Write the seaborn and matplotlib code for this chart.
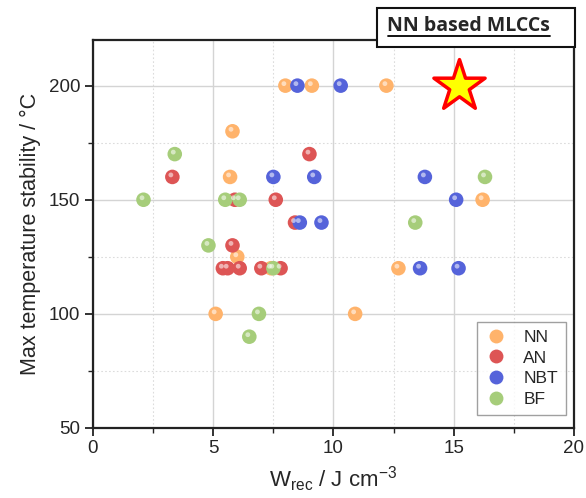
import pandas as pd
import matplotlib.pyplot as plt
import matplotlib.transforms as mtransforms
from matplotlib.patches import Rectangle
from matplotlib.ticker import MultipleLocator
import seaborn as sns

# data
nn_x = [8.0, 9.1, 12.2, 5.8, 5.7, 6.0, 7.4, 5.1, 10.9, 12.7, 16.2]
nn_y = [200, 200, 200, 180, 160, 125, 120, 100, 100, 120, 150]
an_x = [3.3, 9.0, 7.6, 5.9, 8.4, 5.8, 5.4, 5.6, 6.1, 7.0, 7.8]
an_y = [160, 170, 150, 150, 140, 130, 120, 120, 120, 120, 120]
nbt_x = [8.5, 10.3, 7.5, 9.2, 8.6, 9.5, 13.8, 15.1, 13.6, 15.2]
nbt_y = [200, 200, 160, 160, 140, 140, 160, 150, 120, 120]
bf_x = [3.4, 2.1, 5.5, 6.1, 16.3, 13.4, 4.8, 7.5, 6.9, 6.5]
bf_y = [170, 150, 150, 150, 160, 140, 130, 120, 100, 90]
star_x = [15.2]
star_y = [200]

groups = ['NN', 'AN', 'NBT', 'BF']
colors = ['#FFB36B', '#DD5555', '#5563DA', '#A6CD7A']

df = pd.concat([
    pd.DataFrame({'x': nn_x, 'y': nn_y, 'g': 'NN'}),
    pd.DataFrame({'x': an_x, 'y': an_y, 'g': 'AN'}),
    pd.DataFrame({'x': nbt_x, 'y': nbt_y, 'g': 'NBT'}),
    pd.DataFrame({'x': bf_x, 'y': bf_y, 'g': 'BF'}),
], ignore_index=True)

sns.set_style('white')
plt.rcParams['font.family'] = ['Liberation Sans', 'DejaVu Sans']
plt.rcParams['mathtext.fontset'] = 'custom'
plt.rcParams['mathtext.rm'] = 'Liberation Sans'
plt.rcParams['mathtext.it'] = 'Liberation Sans'

fig = plt.figure(figsize=(5.86, 4.98), dpi=100)
ax = fig.add_axes([0.1587, 0.1406, 0.8208, 0.7791])

ax.set_xlim(0, 20)
ax.set_ylim(50, 220)
ax.xaxis.set_major_locator(MultipleLocator(5))
ax.xaxis.set_minor_locator(MultipleLocator(2.5))
ax.yaxis.set_major_locator(MultipleLocator(50))
ax.yaxis.set_minor_locator(MultipleLocator(25))
ax.grid(True, which='major', color='#d4d4d4', lw=1.0, ls='-')
ax.grid(True, which='minor', color='#dcdcdc', lw=0.8, ls=(0, (1.5, 2)))
ax.set_axisbelow(True)

# draw points group by group in order
pal = dict(zip(groups, colors))
sns.scatterplot(data=df, x='x', y='y', hue='g', hue_order=groups, palette=pal,
                s=110, edgecolor='none', linewidth=0, legend=False, ax=ax, zorder=3)
# small highlight to give a glossy sphere look
hl = mtransforms.offset_copy(ax.transData, fig=fig, x=-1.5, y=2.0, units='dots')
ax.scatter(df['x'], df['y'], s=12, color='white', alpha=0.55, edgecolor='none',
           transform=hl, zorder=4)

ax.scatter(star_x, star_y, marker='*', s=1500, color='#FFFF00', edgecolor='red',
           linewidth=2.5, zorder=5)

for side in ['left', 'bottom', 'right', 'top']:
    ax.spines[side].set_color('#222222')
    ax.spines[side].set_linewidth(1.6)
ax.tick_params(which='major', direction='out', length=6, width=1.3, labelsize=13.5,
               left=True, bottom=True, color='#222222', pad=3)
ax.tick_params(which='minor', direction='out', length=3.5, width=1.0,
               left=True, bottom=True, color='#222222')
ax.set_yticks([50, 100, 150, 200])

ax.set_xlabel('W$_{\\rm rec}$ / J cm$^{-3}$', fontsize=16, labelpad=5)
ax.set_ylabel('Max temperature stability / °C', fontsize=15.5, labelpad=6)

handles = [plt.Line2D([], [], marker='o', ls='none', ms=10, color=c, mec='none')
           for c in colors]
leg = ax.legend(handles, groups, loc='lower right', bbox_to_anchor=(0.983, 0.034),
                borderaxespad=0, frameon=True, fancybox=False, fontsize=12.5,
                handletextpad=0.9, borderpad=0.45, labelspacing=0.32,
                handlelength=1.3)
leg.get_frame().set_edgecolor('#888888')
leg.get_frame().set_linewidth(1.0)

# title box with underlined text
fig.add_artist(Rectangle((0.643, 0.905), 0.338, 0.079, transform=fig.transFigure,
                         fc='white', ec='#111111', lw=1.5, zorder=10))
fig.text(0.800, 0.947, 'NN based MLCCs', ha='center', va='center', fontsize=14,
         fontweight='bold', family=['Open Sans', 'DejaVu Sans'], zorder=11)
fig.add_artist(plt.Line2D([0.662, 0.939], [0.928, 0.928], color='black', lw=1.3,
                          transform=fig.transFigure, zorder=11))

fig.savefig('out.png', dpi=100)
